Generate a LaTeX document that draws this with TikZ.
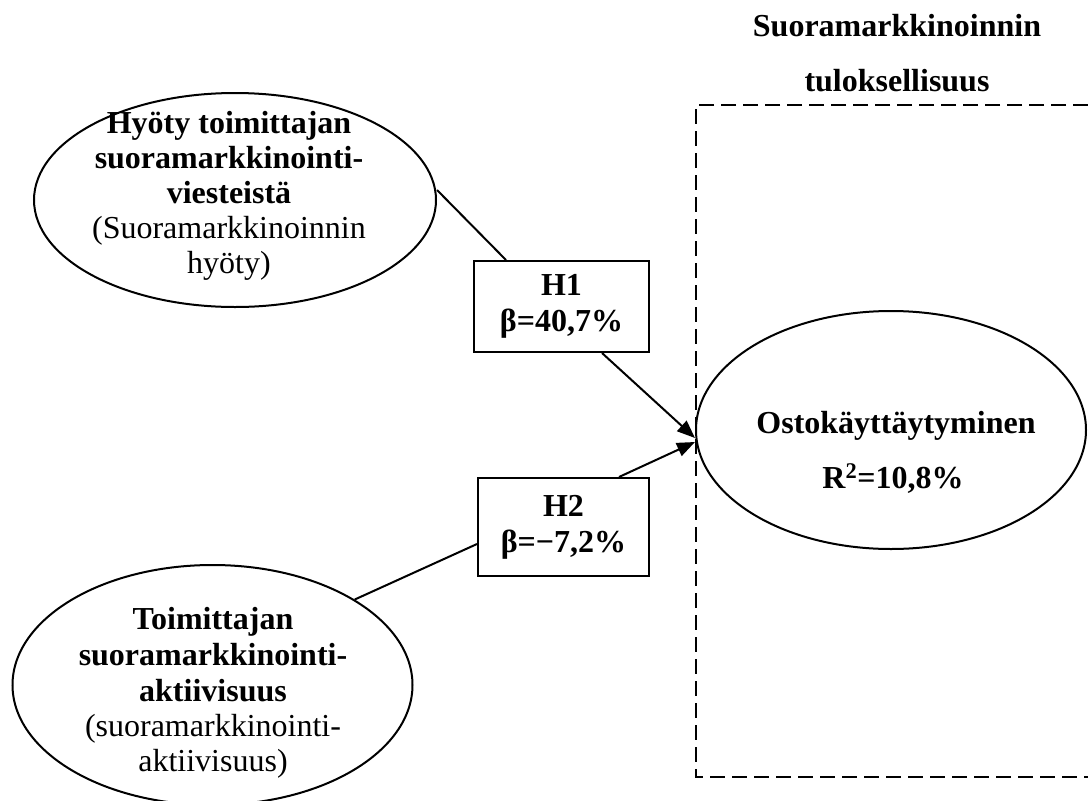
\documentclass[tikz,border=0pt]{standalone}
\usepackage{fontspec}
\setmainfont{Liberation Serif}
\usetikzlibrary{arrows.meta,shapes.geometric}
\tikzset{
  ell/.style={draw, ellipse, line width=2pt, inner sep=0pt},
  hbox/.style={draw, rectangle, line width=2pt, inner sep=0pt, align=center,
    font=\fontsize{32}{36}\selectfont\bfseries},
  txt/.style={align=center, inner sep=0pt, font=\fontsize{32}{35}\selectfont},
  lbl/.style={anchor=base, inner sep=0pt, font=\fontsize{32}{35}\selectfont\bfseries},
  conn/.style={line width=2pt},
  arr/.style={line width=2pt, -{Triangle[length=18pt,width=14pt]}},
  frame/.style={line width=2pt, dash pattern=on 15pt off 7pt}
}
\begin{document}
\begin{tikzpicture}[x=1pt,y=-1pt]
\useasboundingbox (0,0) rectangle (1088,801);
\clip (0,0) rectangle (1088,801);

% dashed frame
\draw[frame] (1110,105) -- (696,105) -- (696,777) -- (1110,777);

% title
\node[lbl] (t1) at (897,36) {Suoramarkkinoinnin};
\node[lbl] (t2) at (897,91) {tuloksellisuus};

% ellipses
\node[ell, minimum width=402pt, minimum height=214pt] (top) at (235,200) {};
\node[txt] (toptext) at (229,196) {\bfseries Hyöty toimittajan\\ \bfseries suoramarkkinointi-\\ \bfseries viesteistä\\ (Suoramarkkinoinnin\\ hyöty)};

\node[ell, minimum width=400pt, minimum height=240pt] (bot) at (212.5,685) {};
\node[txt] (bottext) at (213,693) {\bfseries Toimittajan\\[1pt] \bfseries suoramarkkinointi-\\[1pt] \bfseries aktiivisuus\\[0pt] (suoramarkkinointi-\\[0pt] aktiivisuus)};

\node[ell, minimum width=390pt, minimum height=238pt] (ostok) at (891,430) {};
\node[lbl] (o1) at (896,433) {Ostokäyttäytyminen};
\node[lbl] (o2) at (893,488) {R\textsuperscript{2}=10,8\%};

% hypothesis boxes
\node[hbox, minimum width=175pt, minimum height=91pt] (h1) at (561.5,306.5) {H1\\ β=40,7\%};
\node[hbox, minimum width=171pt, minimum height=98pt] (h2) at (563.5,527) {H2\\ β=−7,2\%};

% connectors
\draw[conn] ([yshift=10pt]top.east) -- ([xshift=33pt]h1.north west);
\draw[arr] ([xshift=129pt]h1.south west) -- ([yshift=-8pt]ostok.west);
\draw[conn] (bot.31) -- ([yshift=33pt]h2.south west);
\draw[arr] ([xshift=142pt]h2.north west) -- ([yshift=-12pt]ostok.west);
\end{tikzpicture}
\end{document}
